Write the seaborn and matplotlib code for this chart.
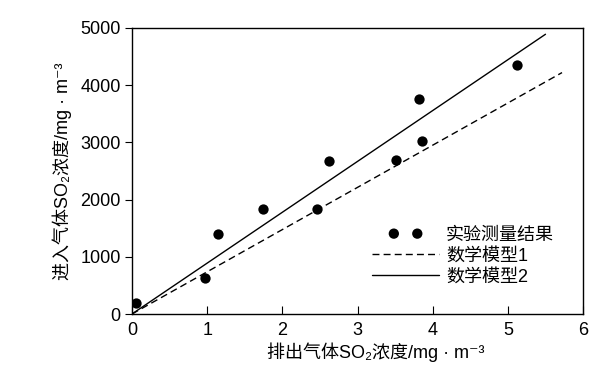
import numpy as np
import pandas as pd
import matplotlib
matplotlib.use("Agg")
import matplotlib.pyplot as plt
from matplotlib.collections import PathCollection
from matplotlib.legend_handler import HandlerPathCollection
import seaborn as sns

sns.set_theme(style="ticks")
plt.rcParams['font.family'] = ['Liberation Sans', 'Noto Sans CJK SC', 'DejaVu Sans']
plt.rcParams['text.color'] = 'black'
plt.rcParams['axes.labelcolor'] = 'black'
plt.rcParams['xtick.color'] = 'black'
plt.rcParams['ytick.color'] = 'black'

# measured points
x_meas = [0.05, 0.97, 1.15, 1.74, 2.46, 2.62, 3.51, 3.82, 3.86, 5.12]
y_meas = [198, 624, 1399, 1830, 1830, 2680, 2692, 3753, 3030, 4353]

# model lines (end points)
x_model1 = [0, 5.72]
y_model1 = [0, 4220]
x_model2 = [0, 5.5]
y_model2 = [0, 4890]

meas = pd.DataFrame({"x": x_meas, "y": y_meas})

fig = plt.figure(figsize=(6.08, 3.71), dpi=100)
ax = fig.add_axes([0.217, 0.1536, 0.742, 0.771])

sns.scatterplot(data=meas, x="x", y="y", ax=ax, color="black", s=55,
                edgecolor="black", linewidth=0, label="实验测量结果", zorder=3)
sns.lineplot(x=x_model1, y=y_model1, ax=ax, color="black", lw=1.0,
             linestyle=(0, (5, 3)), label="数学模型1")
sns.lineplot(x=x_model2, y=y_model2, ax=ax, color="black", lw=1.0,
             label="数学模型2")

ax.set_xlim(0, 6)
ax.set_ylim(0, 5000)
ax.set_xticks(range(0, 7))
ax.set_yticks(range(0, 5001, 1000))
ax.tick_params(axis='x', direction='in', length=6, width=0.8, labelsize=13, pad=6)
ax.tick_params(axis='y', direction='out', length=5, width=0.8, labelsize=13, pad=3)
for s in ax.spines.values():
    s.set_linewidth(1.0)
    s.set_color("black")

ax.set_xlabel('排出气体SO₂浓度/mg · m⁻³', fontsize=13, labelpad=2)
ax.xaxis.label.set_x(0.541)
ax.set_ylabel('进入气体SO₂浓度/mg · m⁻³', fontsize=13, labelpad=6)

leg = ax.legend(loc="lower right", bbox_to_anchor=(0.972, 0.044), frameon=False,
                fontsize=13, scatterpoints=2, scatteryoffsets=[0.5],
                handlelength=3.7, handletextpad=0.4, labelspacing=0.2,
                handler_map={PathCollection: HandlerPathCollection(marker_pad=1.2)})

fig.savefig("out.png", dpi=100)
